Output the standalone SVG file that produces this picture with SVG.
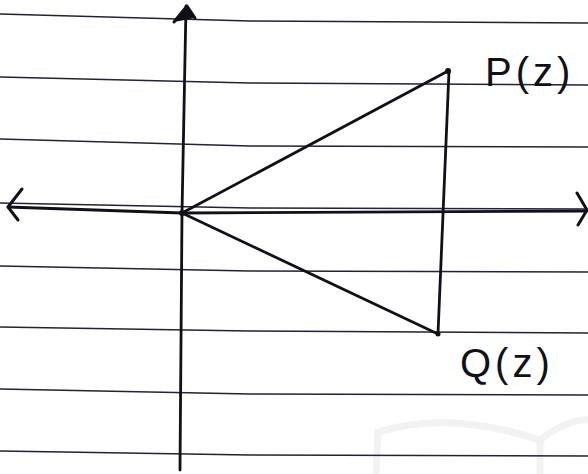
<svg xmlns="http://www.w3.org/2000/svg" width="588" height="474" viewBox="0 0 588 474">
<style>
.rule{stroke:#23223a;stroke-width:1.6;fill:none}
.ink{stroke:#111018;stroke-width:2.8;fill:none;stroke-linecap:round;stroke-linejoin:round}
.head{stroke:#111018;stroke-width:3;fill:none;stroke-linecap:round;stroke-linejoin:round}
.lbl{font-family:"Liberation Sans",Arial,sans-serif;font-size:40px;fill:#111018;letter-spacing:4px}
.wm{stroke:#f2f2f2;stroke-width:7;fill:none}
</style>
<rect width="588" height="474" fill="#ffffff"/>
<g id="watermark">
<path class="wm" d="M376 474 L378 432 Q450 410 540 440 Q570 418 588 420"/>
<path class="wm" d="M540 440 L540 474"/>
</g>
<g id="ruled-lines">
<path class="rule" d="M0 14 L250 21 L588 23"/>
<path class="rule" d="M0 77 L250 83 L588 85"/>
<path class="rule" d="M0 139 L250 146 L588 147"/>
<path class="rule" d="M0 203 L250 208 L588 209"/>
<path class="rule" d="M0 266 L250 271 L588 272"/>
<path class="rule" d="M0 327 L250 331 L588 333"/>
<path class="rule" d="M0 389 L250 394 L588 395"/>
<path class="rule" d="M0 451 L250 455 L588 456"/>
</g>
<g id="connectors">
<path id="x-axis" class="ink" d="M8 207 L182 213 L587 211"/>
<path class="head" d="M22 189 L8 207 L18 220"/>
<path class="head" d="M577 193 L587 210 L578 225"/>
<path id="y-axis" class="ink" d="M186 6 L182 213 L180 470"/>
<path class="head" d="M174 22 L187 6 L195 18" style="fill:#111018"/>
<path id="edge-OP" class="ink" d="M182 213 L448 71"/>
<path id="edge-OQ" class="ink" d="M182 213 L438 334"/>
<path id="edge-PQ" class="ink" d="M449 71 L438 334"/>
</g>
<g id="node-O"><circle cx="182" cy="213" r="3" fill="#111018"/></g>
<g id="node-P"><circle cx="448" cy="71" r="3" fill="#111018"/><text class="lbl" x="485" y="86">P(z)</text></g>
<g id="node-Q"><circle cx="438" cy="334" r="2.5" fill="#111018"/><text class="lbl" x="460" y="377">Q(z)</text></g>
</svg>
